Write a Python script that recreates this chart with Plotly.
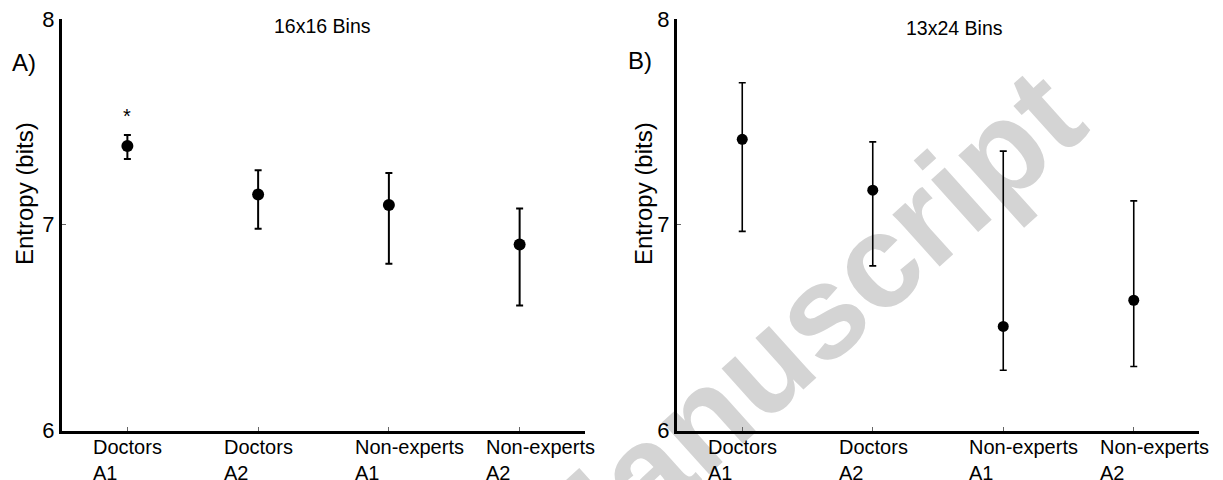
import plotly.graph_objects as go

# ---- data ----
categories = ["Doctors<br>A1", "Doctors<br>A2", "Non-experts<br>A1", "Non-experts<br>A2"]
cat_pos = [1, 2, 3, 4]

mean_16x16 = [7.383, 7.147, 7.096, 6.904]
upper_16x16 = [7.436, 7.265, 7.252, 7.079]
lower_16x16 = [7.319, 6.980, 6.811, 6.607]

mean_13x24 = [7.415, 7.168, 6.506, 6.633]
upper_13x24 = [7.690, 7.403, 7.358, 7.116]
lower_13x24 = [6.968, 6.800, 6.293, 6.311]

y_ticks = [6, 7, 8]
panel_titles = ["16x16 Bins", "13x24 Bins"]
panel_letters = ["A)", "B)"]
y_title = "Entropy (bits)"
significance = ["*", "", "", ""]

FONT = "Liberation Sans, Arial, Helvetica, sans-serif"
W, H = 1223, 480

fig = go.Figure()


def add_panel(mean, upper, lower, xa, ya, thick, msize):
    plus = [u - m for u, m in zip(upper, mean)]
    minus = [m - l for m, l in zip(mean, lower)]
    fig.add_trace(go.Scatter(
        x=cat_pos, y=mean, mode="markers", xaxis=xa, yaxis=ya,
        marker=dict(color="black", size=msize),
        error_y=dict(type="data", symmetric=False, array=plus, arrayminus=minus,
                     color="black", thickness=thick, width=3.5),
        showlegend=False, hoverinfo="skip"))


add_panel(mean_16x16, upper_16x16, lower_16x16, "x", "y", 2, 12)
add_panel(mean_13x24, upper_13x24, lower_13x24, "x2", "y2", 1.6, 11)

ydom = [1 - 430.5 / H, 1 - 19 / H]
xdomA = [62 / W, 585 / W]
xdomB = [677 / W, 1199 / W]

axis_common = dict(showline=True, linewidth=3, linecolor="black", showgrid=False,
                   zeroline=False, ticks="inside", ticklen=4, tickwidth=1,
                   tickcolor="#666666", automargin=False)

xaxis_common = dict(axis_common, range=[0.5, 4.5], tickvals=cat_pos,
                    showticklabels=False)
yaxis_common = dict(axis_common, range=[6, 8], tickvals=y_ticks,
                    tickfont=dict(family=FONT, size=22, color="black"), domain=ydom)

fig.update_layout(
    width=W, height=H, margin=dict(l=0, r=0, t=0, b=0, autoexpand=False),
    paper_bgcolor="white", plot_bgcolor="rgba(0,0,0,0)",
    xaxis=dict(xaxis_common, domain=xdomA, anchor="y"),
    yaxis=dict(yaxis_common, anchor="x"),
    xaxis2=dict(xaxis_common, domain=xdomB, anchor="y2"),
    yaxis2=dict(yaxis_common, anchor="x2"),
    font=dict(family=FONT, color="black"),
)

ann = []
for xr, yr in [("x", "y"), ("x2", "y2")]:
    for p, lab in zip(cat_pos, categories):
        ann.append(dict(x=p, y=ydom[0], xref=xr, yref="paper", text=lab,
                        xanchor="left", yanchor="top", align="left",
                        xshift=-36, yshift=-3, showarrow=False,
                        font=dict(family=FONT, size=20, color="black")))

# significance marker
for p, u, s in zip(cat_pos, upper_16x16, significance):
    if s:
        ann.append(dict(x=p, y=u, xref="x", yref="y", text=s, showarrow=False,
                        yanchor="middle", yshift=19,
                        font=dict(family=FONT, size=20, color="black")))

# panel titles
ann.append(dict(x=322 / W, y=1 - 26.5 / H, xref="paper", yref="paper",
                text=panel_titles[0], showarrow=False, xanchor="center",
                yanchor="middle", font=dict(family=FONT, size=19.5, color="black")))
ann.append(dict(x=954 / W, y=1 - 28.5 / H, xref="paper", yref="paper",
                text=panel_titles[1], showarrow=False, xanchor="center",
                yanchor="middle", font=dict(family=FONT, size=19.5, color="black")))
# panel letters
ann.append(dict(x=24 / W, y=1 - 63 / H, xref="paper", yref="paper",
                text=panel_letters[0], showarrow=False, xanchor="center",
                yanchor="middle", font=dict(family=FONT, size=24, color="black")))
ann.append(dict(x=640 / W, y=1 - 60 / H, xref="paper", yref="paper",
                text=panel_letters[1], showarrow=False, xanchor="center",
                yanchor="middle", font=dict(family=FONT, size=24, color="black")))
# y titles
for xc in [24, 643]:
    ann.append(dict(x=xc / W, y=1 - 194 / H, xref="paper", yref="paper",
                    text=y_title, textangle=-90, showarrow=False,
                    xanchor="center", yanchor="middle",
                    font=dict(family=FONT, size=24, color="black")))

fig.update_layout(annotations=ann)

# watermark behind the data
cx, cy = 789 / W, 1 - 323 / H
fig.add_shape(type="rect", xref="paper", yref="paper",
              x0=cx - 0.002, x1=cx + 0.002, y0=cy - 0.002, y1=cy + 0.002,
              line=dict(width=0), fillcolor="rgba(0,0,0,0)", layer="below",
              label=dict(text="Manuscript", textangle=-42, textposition="middle center",
                         font=dict(family="Liberation Sans", size=133,
                                   color="#d4d4d4", weight="bold")))

fig.write_html("out.html")
